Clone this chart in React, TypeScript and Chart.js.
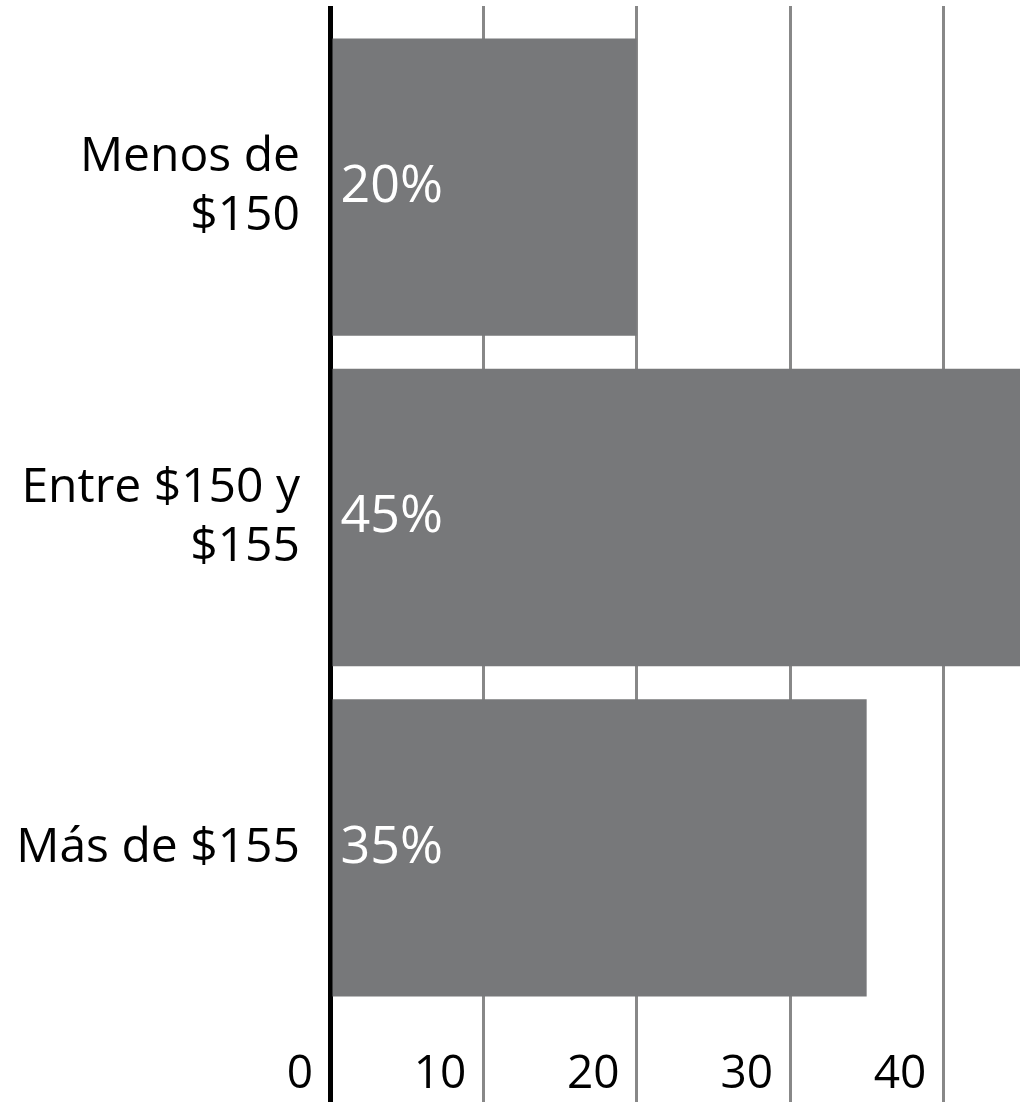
import React, { useEffect, useRef } from "react";
import { Chart, registerables } from "chart.js";

Chart.register(...registerables);

const categories: (string | string[])[] = [["Menos de", "$150"], ["Entre $150 y", "$155"], "Más de $155"];
const values = [20, 45, 35];
const valueLabels = ["20%", "45%", "35%"];
const xTicks = [0, 10, 20, 30, 40];
const xMax = 45;

const FONT = "'Open Sans', sans-serif";
const CAT_FONT_SIZE = 48;
const TICK_FONT_SIZE = 46;
const VALUE_FONT_SIZE = 52;
const BAR_COLOR = "#77787a";
const GRID_COLOR = "#888888";

const gridColor = (v: number) => (v === 0 ? "#000000" : GRID_COLOR);
const gridWidth = (v: number) => (v === 0 ? 5 : 3);
const alignPx = (p: number, w: number) => Math.round(p - w / 2) + w / 2;

const extendGrid = {
  id: "extendGrid",
  beforeDatasetsDraw(chart: any) {
    const { ctx, chartArea } = chart;
    const xs = chart.scales.x;
    ctx.save();
    xs.ticks.forEach((t: any) => {
      const w = gridWidth(t.value);
      const px = alignPx(xs.getPixelForValue(t.value), w);
      ctx.beginPath();
      ctx.strokeStyle = gridColor(t.value);
      ctx.lineWidth = w;
      ctx.moveTo(px, 6);
      ctx.lineTo(px, chartArea.top + 1);
      ctx.stroke();
    });
    ctx.restore();
  },
};

const valueLabelPlugin = {
  id: "valueLabels",
  afterDatasetsDraw(chart: any) {
    const { ctx } = chart;
    const meta = chart.getDatasetMeta(0);
    ctx.save();
    ctx.font = `${VALUE_FONT_SIZE}px ${FONT}`;
    ctx.fillStyle = "#ffffff";
    ctx.textAlign = "left";
    ctx.textBaseline = "middle";
    meta.data.forEach((bar: any, i: number) => {
      ctx.fillText(valueLabels[i], bar.base + 8, bar.y);
    });
    ctx.restore();
  },
};

export default function App() {
  const ref = useRef<HTMLCanvasElement | null>(null);
  useEffect(() => {
    if (!ref.current) return;
    const chart = new Chart(ref.current, {
      type: "bar",
      data: {
        labels: categories,
        datasets: [
          {
            data: values,
            backgroundColor: BAR_COLOR,
            borderWidth: 0,
            categoryPercentage: 0.9,
            barPercentage: 1,
          },
        ],
      },
      options: {
        indexAxis: "y",
        responsive: false,
        animation: false,
        layout: { padding: { top: 22, right: 1, left: 0, bottom: 0 } },
        plugins: { legend: { display: false }, tooltip: { enabled: false } },
        scales: {
          x: {
            position: "bottom",
            min: 0,
            max: xMax,
            afterBuildTicks: (s: any) => {
              s.ticks = xTicks.map((v) => ({ value: v }));
            },
            afterFit: (s: any) => {
              s.height = 89;
              s.paddingLeft = 0;
              s.paddingRight = 0;
            },
            border: { display: false },
            grid: {
              drawOnChartArea: true,
              drawTicks: true,
              tickLength: 89,
              color: (c: any) => gridColor(c.tick ? c.tick.value : -1),
              tickColor: (c: any) => gridColor(c.tick ? c.tick.value : -1),
              lineWidth: (c: any) => gridWidth(c.tick ? c.tick.value : -1),
              tickWidth: (c: any) => gridWidth(c.tick ? c.tick.value : -1),
            },
            ticks: {
              align: "end",
              labelOffset: -17,
              padding: -55,
              color: "#000000",
              font: { family: FONT, size: TICK_FONT_SIZE },
              maxRotation: 0,
            },
          },
          y: {
            afterFit: (s: any) => {
              s.width = 330;
              s.paddingTop = 0;
              s.paddingBottom = 0;
            },
            border: { display: false },
            grid: { display: false, drawTicks: false },
            ticks: {
              padding: 30,
              color: "#000000",
              font: { family: FONT, size: CAT_FONT_SIZE, lineHeight: 1.23 },
            },
          },
        },
      },
      plugins: [extendGrid, valueLabelPlugin],
    });
    return () => chart.destroy();
  }, []);
  return (
    <div style={{ position: "absolute", left: 0, top: 0, width: 1021, height: 1102, background: "#fff" }}>
      <canvas ref={ref} width={1021} height={1102} style={{ display: "block" }} />
    </div>
  );
}
